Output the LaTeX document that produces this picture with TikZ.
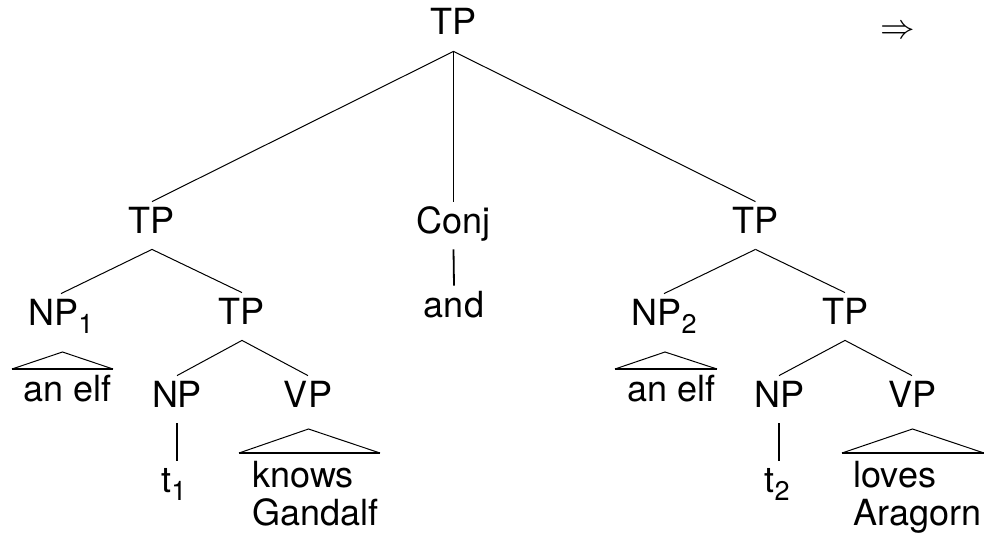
\documentclass[tikz,border=0pt]{standalone}
\usepackage{fontspec}
\setmainfont{TeX Gyre Heros}
\newcommand{\sub}[1]{\raisebox{-4pt}{\fontsize{13.5}{14}\selectfont #1}}
\begin{document}
\begin{tikzpicture}[x=0.5pt,y=-0.5pt,
  every node/.style={font=\fontsize{18}{19}\selectfont, inner sep=0pt},
  lab/.style={anchor=base, text height=15.5pt, text depth=8pt},
  leaf/.style={anchor=base west, align=left},
  branch/.style={line width=0.5pt},
  stem/.style={line width=0.9pt},
  roofside/.style={line width=0.5pt},
  roofbase/.style={line width=1pt}]
\useasboundingbox (0,0) rectangle (984,540);

% labels
\node[lab] (tp0)  at (453.5,35) {TP};
\node[lab] (tpL)  at (152,233)  {TP};
\node[lab] (conj) at (453.5,233) {Conj};
\node[lab] (tpR)  at (755.5,233) {TP};
\node[lab] (np1)  at (61,325)   {NP\sub{1}};
\node[lab] (tpL2) at (242,324)  {TP};
\node[lab] (and)  at (454,317)  {and};
\node[lab] (np2)  at (664,325)  {NP\sub{2}};
\node[lab] (tpR2) at (845,324)  {TP};
\node[lab] (npL)  at (177,407)  {NP};
\node[lab] (vpL)  at (308,407)  {VP};
\node[lab] (npR)  at (779,407)  {NP};
\node[lab] (vpR)  at (912,407)  {VP};
\node[lab] (t1)   at (174,492)  {t\sub{1}};
\node[lab] (t2)   at (777,492)  {t\sub{2}};

% leaves under roofs (base = baseline of the last line)
\node[leaf] (elf1) at (23,401)  {an elf};
\node[leaf] (elf2) at (627,401) {an elf};
\node[leaf] (kg)   at (252,525) {knows\\Gandalf};
\node[leaf] (la)   at (853,525) {loves\\Aragorn};

\node (arr) at (898,32) {$\Rightarrow$};

% branches
\draw[branch] (tp0.south) -- (tpL.north);
\draw[stem]   (tp0.south) -- (conj.north);
\draw[branch] (tp0.south) -- (tpR.north);
\draw[branch] (tpL.south) -- (np1.north);
\draw[branch] (tpL.south) -- (tpL2.north);
\draw[stem]   (conj.south) -- (and.north);
\draw[branch] (tpR.south) -- (np2.north);
\draw[branch] (tpR.south) -- (tpR2.north);
\draw[branch] (tpL2.south) -- (npL.north);
\draw[branch] (tpL2.south) -- (vpL.north);
\draw[branch] (tpR2.south) -- (npR.north);
\draw[branch] (tpR2.south) -- (vpR.north);
\draw[stem]   (npL.south) -- (npL.south |- t1.north);
\draw[stem]   (npR.south) -- (npR.south |- t2.north);

% roofs
\coordinate (r1a) at (62.5,352); \coordinate (r1l) at (12,369);  \coordinate (r1r) at (113,369);
\coordinate (r2a) at (665,352);  \coordinate (r2l) at (615,369); \coordinate (r2r) at (717,369);
\coordinate (r3a) at (308.5,429); \coordinate (r3l) at (239,453); \coordinate (r3r) at (380,453);
\coordinate (r4a) at (912.5,429); \coordinate (r4l) at (842,453); \coordinate (r4r) at (984,453);
\foreach \r in {r1,r2,r3,r4}{
  \draw[roofside] (\r l) -- (\r a) -- (\r r);
  \draw[roofbase] (\r l) -- (\r r);
}
\end{tikzpicture}
\end{document}
